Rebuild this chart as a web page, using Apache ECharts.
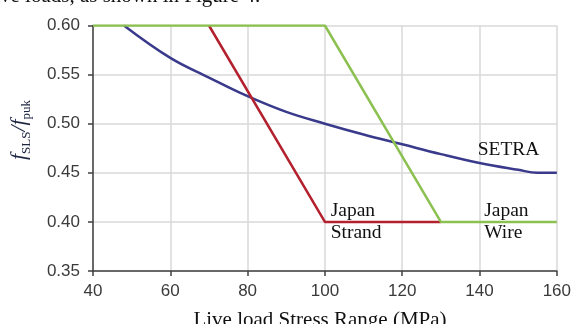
<!DOCTYPE html>
<html><head><meta charset="utf-8">
<style>html,body{margin:0;padding:0;background:#fff;}#c{width:574px;height:324px;}</style>
<script src="https://cdn.jsdelivr.net/npm/echarts@6/dist/echarts.min.js"></script>
</head><body><div id="c"></div>
<script>
// data
const xTicks = [40, 60, 80, 100, 120, 140, 160];
const setraX = [48, 60, 70, 80, 90, 100, 110, 120, 130, 140, 150, 155, 160];
const setraY = [0.600, 0.567, 0.547, 0.528, 0.512, 0.500, 0.489, 0.479, 0.469, 0.460, 0.453, 0.450, 0.450];
const strandX = [70, 100, 130];
const strandY = [0.60, 0.40, 0.40];
const wireX = [40, 100, 130, 160];
const wireY = [0.60, 0.60, 0.40, 0.40];
const labels = [
  {text: 'SETRA', x: 147.5, y: 0.473, align: 'center'},
  {text: 'Japan\nStrand', x: 101.5, y: 0.400, align: 'left'},
  {text: 'Japan\nWire', x: 141.2, y: 0.400, align: 'left'}
];

const zip = (a, b) => a.map((v, i) => [v, b[i]]);
const chart = echarts.init(document.getElementById('c'), null, {renderer: 'canvas'});
const axisCol = '#404040';
chart.setOption({
  animation: false,
  grid: {left: 93, right: 16, top: 25.5, bottom: 53, containLabel: false},
  xAxis: {
    type: 'value', min: 40, max: 160, interval: 20,
    axisLine: {show: true, onZero: false, lineStyle: {color: axisCol, width: 1.5}},
    axisTick: {show: true, inside: false, length: 5, lineStyle: {color: axisCol, width: 1.5}},
    axisLabel: {fontFamily: 'Liberation Sans', fontSize: 17, color: '#3a3a3a', margin: 12},
    splitLine: {show: true, lineStyle: {color: '#d9d9d9', width: 1.5}}
  },
  yAxis: {
    type: 'value', min: 0.35, max: 0.60, interval: 0.05,
    axisLine: {show: true, onZero: false, lineStyle: {color: axisCol, width: 1.5}},
    axisTick: {show: true, inside: false, length: 5, lineStyle: {color: axisCol, width: 1.5}},
    axisLabel: {fontFamily: 'Liberation Sans', fontSize: 17, color: '#3a3a3a', margin: 13,
      formatter: v => v.toFixed(2)},
    splitLine: {show: true, lineStyle: {color: '#d9d9d9', width: 1.5}}
  },
  series: [
    {type: 'line', data: zip(setraX, setraY), smooth: 0.4, symbol: 'none', z: 3,
      lineStyle: {color: '#3a3a8c', width: 2.5}},
    {type: 'line', data: zip(strandX, strandY), symbol: 'none', z: 4,
      lineStyle: {color: '#b3202e', width: 2.5}},
    {type: 'line', data: zip(wireX, wireY), symbol: 'none', z: 5,
      lineStyle: {color: '#8cc152', width: 2.5}}
  ]
});

const g = [];
labels.forEach(l => {
  const p = chart.convertToPixel({gridIndex: 0}, [l.x, l.y]);
  g.push({type: 'text', x: p[0], y: p[1], z: 10,
    style: {text: l.text, font: '19.5px "Liberation Serif"', fill: '#111', align: l.align,
      verticalAlign: 'middle', lineHeight: 22}});
});
g.push({type: 'text', x: 320, y: 320, z: 10,
  style: {text: 'Live load Stress Range (MPa)', font: '21px "Liberation Serif"', fill: '#111',
    align: 'center', verticalAlign: 'middle'}});
g.push({type: 'text', x: 0, y: 7, z: 10,
  style: {text: 've loads, as shown in Figure 4.', font: '21px "Liberation Serif"', fill: '#111',
    align: 'left', verticalAlign: 'bottom'}});
g.push({type: 'text', x: 19, y: 130, rotation: Math.PI / 2, z: 10,
  style: {text: '{f|f}{s|SLS}{f|/f}{s|puk}', align: 'center', verticalAlign: 'middle', fill: '#1d2540',
    rich: {f: {font: 'italic 22px "Liberation Serif"', fill: '#1d2540', verticalAlign: 'bottom'},
           s: {font: '13px "Liberation Serif"', fill: '#1d2540', verticalAlign: 'bottom', padding: [0, 0, -3, 0]}}}});
chart.setOption({graphic: g});
</script></body></html>
